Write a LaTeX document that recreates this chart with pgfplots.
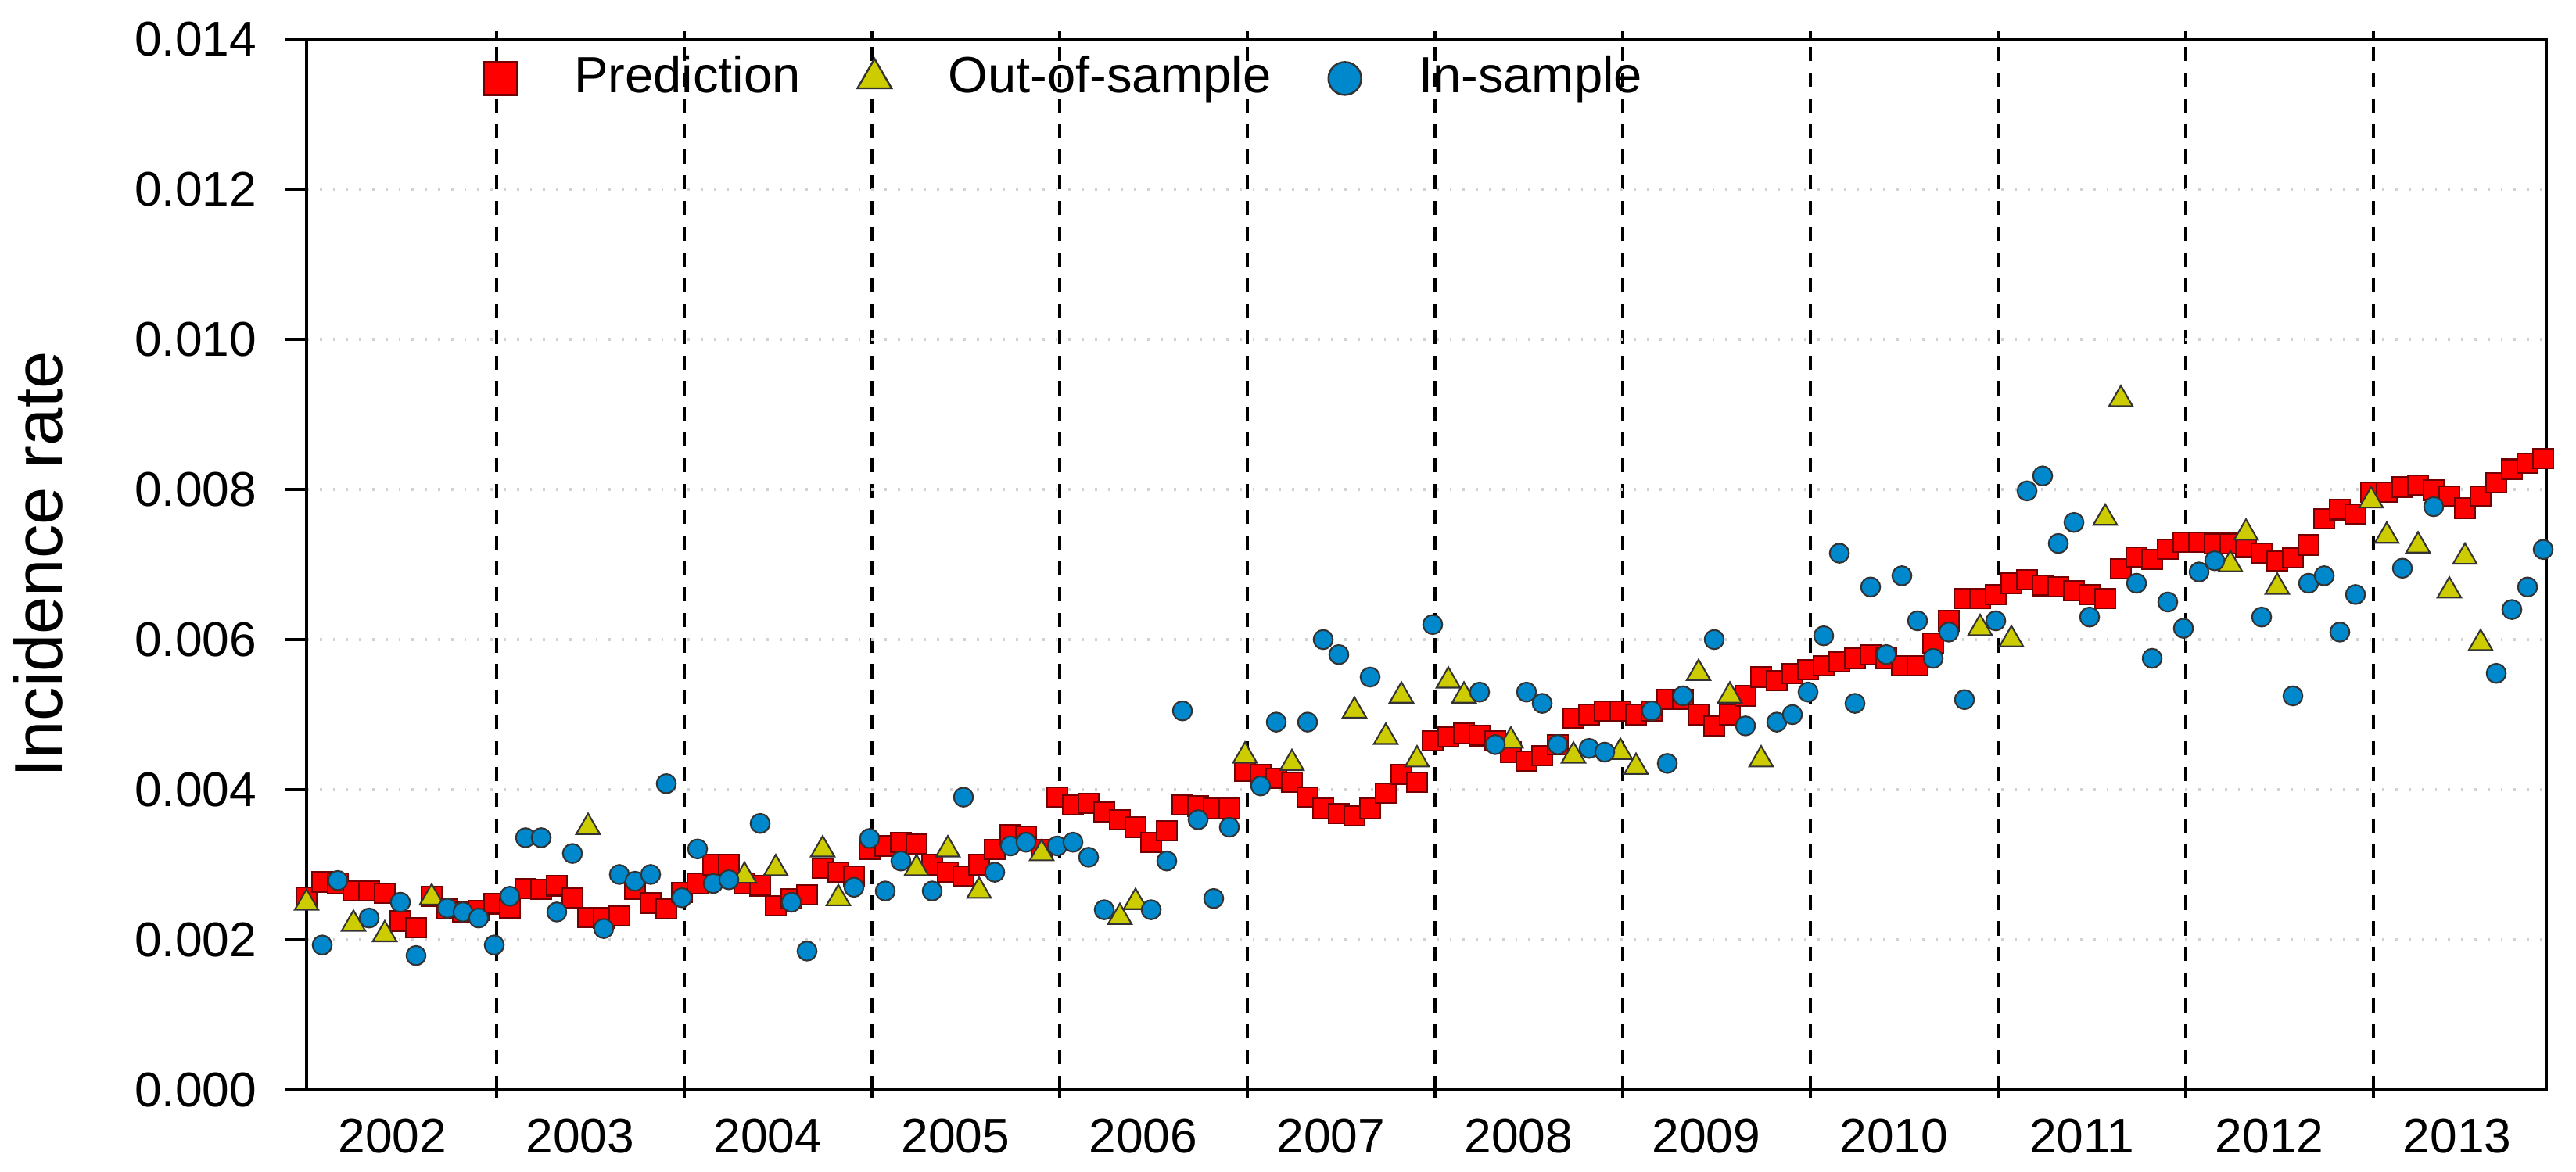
\documentclass[border=0pt]{standalone}
\usepackage{fontspec}
\setmainfont{Liberation Sans}
\usepackage{pgfplots}
\usepackage{pgfplotstable}
\pgfplotsset{compat=1.18}
\definecolor{predred}{RGB}{255,0,0}
\definecolor{outyel}{RGB}{204,204,0}
\definecolor{inblue}{RGB}{0,136,204}

\pgfplotstableread{
m v
0 0.00257
1 0.00277
2 0.00275
3 0.00265
4 0.00265
5 0.00262
6 0.00225
7 0.00216
8 0.00258
9 0.00241
10 0.00237
11 0.00239
12 0.00248
13 0.00242
14 0.00268
15 0.00267
16 0.00272
17 0.00256
18 0.00230
19 0.00229
20 0.00232
21 0.00267
22 0.00249
23 0.00241
24 0.00263
25 0.00275
26 0.00300
27 0.00300
28 0.00275
29 0.00272
30 0.00245
31 0.00255
32 0.00260
33 0.00295
34 0.00290
35 0.00285
36 0.00320
37 0.00325
38 0.00330
39 0.00328
40 0.00300
41 0.00290
42 0.00285
43 0.00300
44 0.00320
45 0.00340
46 0.00338
47 0.00320
48 0.00390
49 0.00380
50 0.00382
51 0.00370
52 0.00360
53 0.00350
54 0.00330
55 0.00345
56 0.00380
57 0.00378
58 0.00375
59 0.00375
60 0.00425
61 0.00420
62 0.00415
63 0.00410
64 0.00390
65 0.00375
66 0.00368
67 0.00365
68 0.00375
69 0.00395
70 0.00420
71 0.00410
72 0.00465
73 0.00470
74 0.00475
75 0.00472
76 0.00465
77 0.00450
78 0.00438
79 0.00445
80 0.00460
81 0.00495
82 0.00500
83 0.00505
84 0.00505
85 0.00500
86 0.00505
87 0.00520
88 0.00520
89 0.00500
90 0.00485
91 0.00500
92 0.00525
93 0.00550
94 0.00545
95 0.00555
96 0.00560
97 0.00565
98 0.00570
99 0.00575
100 0.00580
101 0.00575
102 0.00565
103 0.00565
104 0.00595
105 0.00625
106 0.00655
107 0.00655
108 0.00660
109 0.00675
110 0.00680
111 0.00672
112 0.00670
113 0.00665
114 0.00660
115 0.00655
116 0.00694
117 0.00710
118 0.00707
119 0.00720
120 0.00730
121 0.00730
122 0.00728
123 0.00728
124 0.00723
125 0.00715
126 0.00705
127 0.00709
128 0.00726
129 0.00761
130 0.00773
131 0.00767
132 0.00796
133 0.00796
134 0.00803
135 0.00806
136 0.00799
137 0.00791
138 0.00775
139 0.00791
140 0.00809
141 0.00827
142 0.00835
143 0.00841
}\pred

\pgfplotstableread{
m v
0 0.00249
3 0.00221
5 0.00207
8 0.00256
18 0.00350
28 0.00285
30 0.00295
33 0.00320
34 0.00255
39 0.00295
41 0.00320
43 0.00265
47 0.00315
52 0.00230
53 0.00250
60 0.00445
63 0.00435
67 0.00505
69 0.00470
70 0.00525
71 0.00440
73 0.00545
74 0.00525
77 0.00465
81 0.00445
84 0.00450
85 0.00430
89 0.00555
91 0.00525
93 0.00440
107 0.00615
109 0.00600
115 0.00762
116 0.00920
123 0.00700
124 0.00742
126 0.00670
132 0.00785
133 0.00738
135 0.00725
137 0.00665
138 0.00710
139 0.00595
}\outs

\pgfplotstableread{
m v
1 0.00193
2 0.00279
4 0.00229
6 0.00250
7 0.00179
9 0.00242
10 0.00237
11 0.00229
12 0.00193
13 0.00258
14 0.00336
15 0.00336
16 0.00237
17 0.00315
19 0.00215
20 0.00287
21 0.00278
22 0.00287
23 0.00408
24 0.00256
25 0.00321
26 0.00275
27 0.00280
29 0.00355
31 0.00250
32 0.00185
35 0.00270
36 0.00335
37 0.00265
38 0.00305
40 0.00265
42 0.00390
44 0.00290
45 0.00325
46 0.00330
48 0.00325
49 0.00330
50 0.00310
51 0.00240
54 0.00240
55 0.00305
56 0.00505
57 0.00360
58 0.00255
59 0.00350
61 0.00405
62 0.00490
64 0.00490
65 0.00600
66 0.00580
68 0.00550
72 0.00620
75 0.00530
76 0.00460
78 0.00530
79 0.00515
80 0.00460
82 0.00455
83 0.00450
86 0.00505
87 0.00435
88 0.00525
90 0.00600
92 0.00485
94 0.00490
95 0.00500
96 0.00530
97 0.00605
98 0.00715
99 0.00515
100 0.00670
101 0.00580
102 0.00685
103 0.00625
104 0.00575
105 0.00610
106 0.00520
108 0.00625
110 0.00798
111 0.00818
112 0.00728
113 0.00756
114 0.00630
117 0.00675
118 0.00575
119 0.00650
120 0.00615
121 0.00690
122 0.00705
125 0.00630
127 0.00525
128 0.00675
129 0.00685
130 0.00610
131 0.00660
134 0.00695
136 0.00777
140 0.00555
141 0.00640
142 0.00670
143 0.00720
}\ins

\begin{document}
\begin{tikzpicture}
\useasboundingbox (-56pt,-14.86pt) rectangle (414.57pt,199.14pt);
\begin{axis}[
  at={(0,0)}, anchor=south west,
  scale only axis, width=409.14pt, height=192pt,
  xmin=0, xmax=143.2, ymin=0, ymax=0.014,
  axis line style={line width=0.6pt},
  ytick={0,0.002,0.004,0.006,0.008,0.010,0.012,0.014},
  scaled y ticks=false,
  yticklabel style={/pgf/number format/fixed, /pgf/number format/fixed zerofill, /pgf/number format/precision=3, /pgf/number format/assume math mode=true},
  ytick pos=left,
  tick align=outside,
  major tick length=4pt,
  minor tick length=1.4pt,
  xtick={5.5,17.5,29.5,41.5,53.5,65.5,77.5,89.5,101.5,113.5,125.5,137.5},
  xticklabels={2002,2003,2004,2005,2006,2007,2008,2009,2010,2011,2012,2013},
  minor xtick={12.15,24.15,36.15,48.15,60.15,72.15,84.15,96.15,108.15,120.15,132.15},
  major x tick style={draw=none},
  minor x tick style={line width=0.5pt, black},
  major y tick style={line width=0.6pt, black},
  xminorgrids=true,
  minor x grid style={black, line width=0.5pt, dash pattern=on 2.6pt off 2.1pt},
  ymajorgrids=true,
  major grid style={gray!35, dotted, line width=0.6pt},
  tick label style={font=\fontsize{8.9}{10}\selectfont},
  xticklabel style={yshift=2.3pt},
  yticklabel style={xshift=-1.6pt},
  ylabel={Incidence rate},
  ylabel style={at={([xshift=-44.6pt]axis description cs:0,0.5)}, anchor=base, font=\fontsize{12.4}{14}\selectfont},
  legend image code/.code={\draw[#1] plot coordinates {(0pt,0pt)}; \path (-8.7pt,0pt) (8.7pt,0pt);},
  legend style={draw=none, fill=none, legend columns=3, column sep=2.6pt,
    font=\fontsize{9.3}{11}\selectfont,
    at={([xshift=23.3pt,yshift=-7.2pt]axis description cs:0,1)}, anchor=west},
  legend cell align=left,
]
\addlegendimage{only marks, mark=square*, mark size=3pt, mark options={fill=predred, draw=red!45!black, line width=0.35pt}}
\addlegendentry{Prediction}
\addlegendimage{only marks, mark=triangle*, mark size=3.6pt, mark options={fill=outyel, draw=black!80, line width=0.35pt}}
\addlegendentry{Out-of-sample}
\addlegendimage{only marks, mark=*, mark size=3pt, mark options={fill=inblue, draw=black!80, line width=0.35pt}}
\addlegendentry{In-sample}
\addplot[forget plot, only marks, mark=square*, mark size=1.8pt, mark options={fill=predred, draw=red!45!black, line width=0.3pt}] table[x=m,y=v] {\pred};
\addplot[forget plot, only marks, mark=triangle*, mark size=2.5pt, mark options={fill=outyel, draw=black!80, line width=0.3pt}] table[x=m,y=v] {\outs};
\addplot[forget plot, only marks, mark=*, mark size=1.75pt, mark options={fill=inblue, draw=black!80, line width=0.3pt}] table[x=m,y=v] {\ins};
\end{axis}
\end{tikzpicture}
\end{document}
